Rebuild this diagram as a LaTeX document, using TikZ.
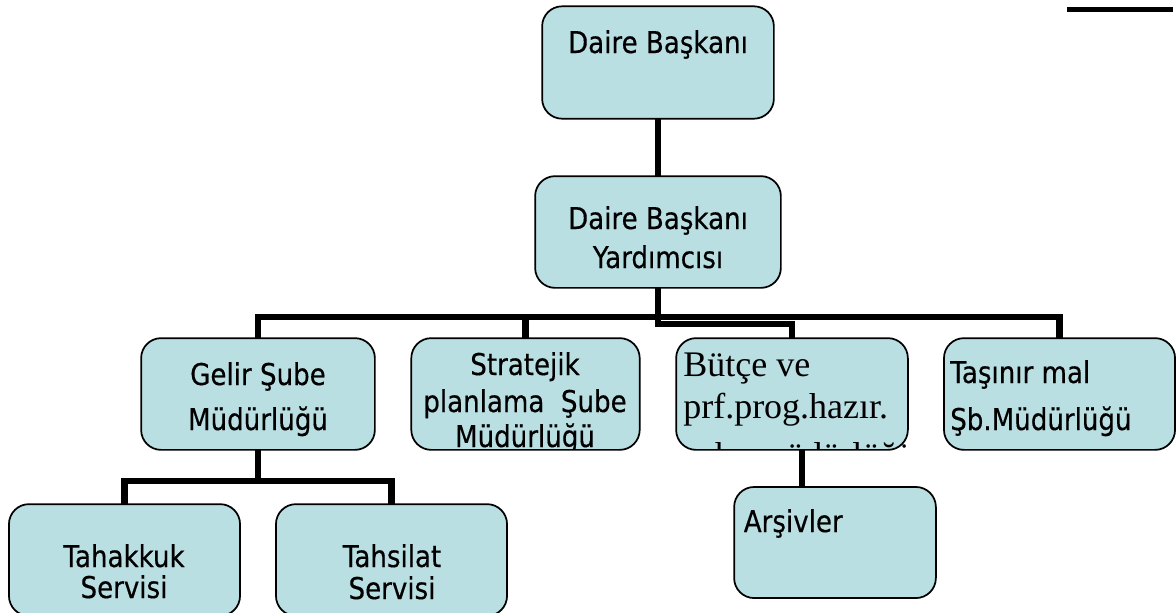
\documentclass[tikz,border=0pt]{standalone}
\usepackage{fontspec}
\setmainfont{DejaVu Sans}[FakeStretch=0.87, FakeBold=0.4]
\newfontfamily\serifyazi{Liberation Serif}
\usepackage{xcolor}
\usepackage{tikz}
\usetikzlibrary{calc}

\definecolor{kutumavi}{RGB}{185,223,227}

\tikzset{
	kutu/.style={draw=black, line width=1.3pt, fill=kutumavi, rounded corners=15pt, inner sep=0pt},
	yazi/.style={inner sep=0pt, anchor=base, font=\fontsize{22.5}{27}\selectfont},
	hat/.style={line width=4.6pt, draw=black},
}

\begin{document}
\begin{tikzpicture}[x=0.75pt, y=-0.75pt]

	\clip (0,0) rectangle (1176,612);

	% coordinates of the connector bars
	\coordinate (bar1) at (658,317);
	\coordinate (bar2) at (658,324);
	\coordinate (bar3) at (258,481);
	\coordinate (ars) at (802,0);

	\node[kutu, minimum width=172.5pt, minimum height=83pt] (baskan) at (658,62.5) {};
	\node[kutu, minimum width=183pt, minimum height=82.5pt] (yard) at (658,232) {};
	\node[kutu, minimum width=174pt, minimum height=82.5pt] (gelir) at (258,394) {};
	\node[kutu, minimum width=170pt, minimum height=82.5pt] (strateji) at (525.5,394) {};
	\node[kutu, minimum width=172.5pt, minimum height=82.5pt] (butce) at (792,394) {};
	\node[kutu, minimum width=172pt, minimum height=82.5pt] (tasinir) at (1059.5,394) {};
	\node[kutu, minimum width=172pt, minimum height=82.5pt] (tahakkuk) at (124.5,560) {};
	\node[kutu, minimum width=172pt, minimum height=82.5pt] (tahsilat) at (391.5,560) {};
	\node[kutu, minimum width=150pt, minimum height=82pt] (arsiv) at (835,542.5) {};

	% connectors
	\draw[hat] (baskan.south) -- (yard.north);
	\draw[hat] (yard.south) -- (bar2) -| (butce.north);
	\draw[hat] (bar1) -| (gelir.north);
	\draw[hat] (bar1) -| (tasinir.north);
	\draw[hat] (strateji.north) -- (strateji.north |- bar1);
	\draw[hat] (gelir.south) -- (bar3);
	\draw[hat] (bar3) -| (tahakkuk.north);
	\draw[hat] (bar3) -| (tahsilat.north);
	\draw[hat] (butce.south -| ars) -- (arsiv.north -| ars);

	% redraw the boxes over the bar ends
	\foreach \k in {baskan,yard,gelir,strateji,butce,tasinir,tahakkuk,tahsilat,arsiv}
		\draw[line width=1.3pt, fill=kutumavi, rounded corners=15pt] (\k.south west) rectangle (\k.north east);

	\node[yazi] (t1) at (658,53) {Daire Başkanı};
	\node[yazi] (t2) at (658,229) {Daire Başkanı};
	\node[yazi] (t3) at (658,268) {Yardımcısı};
	\node[yazi] (t4) at (258,385) {Gelir Şube};
	\node[yazi] (t5) at (258,430) {Müdürlüğü};
	\node[yazi, anchor=base west] (t6) at (950,383) {Taşınır mal};
	\node[yazi, anchor=base west] (t7) at (950,430) {Şb.Müdürlüğü};
	\node[yazi] (t8) at (124,567) {Tahakkuk};
	\node[yazi] (t9) at (124,598) {Servisi};
	\node[yazi] (t10) at (392,567) {Tahsilat};
	\node[yazi] (t11) at (392,599) {Servisi};
	\node[yazi, anchor=base east] (t12) at (843,532) {Arşivler};

	\begin{scope}
		\clip ([yshift=1pt]strateji.south west) rectangle (strateji.north east);
		\node[yazi] (t13) at (525,375) {Stratejik};
		\node[yazi] (t14) at (525,412) {planlama\ \ Şube};
		\node[yazi] (t15) at (525,447) {Müdürlüğü};
	\end{scope}

	\begin{scope}
		\clip ([yshift=1pt]butce.south west) rectangle (butce.north east);
		\node[yazi, anchor=base west, font=\serifyazi\fontsize{27}{30}\selectfont] (t16) at (683,376) {Bütçe ve};
		\node[yazi, anchor=base west, font=\serifyazi\fontsize{27}{30}\selectfont] (t17) at (683,418) {prf.prog.hazır.};
		\node[yazi, anchor=base west, font=\serifyazi\fontsize{27}{30}\selectfont] (t18) at (683,467) {şube müdürlüğü};
	\end{scope}

	\draw[hat, line width=4pt] (1067,9.5) -- (1173,9.5);

\end{tikzpicture}
\end{document}
